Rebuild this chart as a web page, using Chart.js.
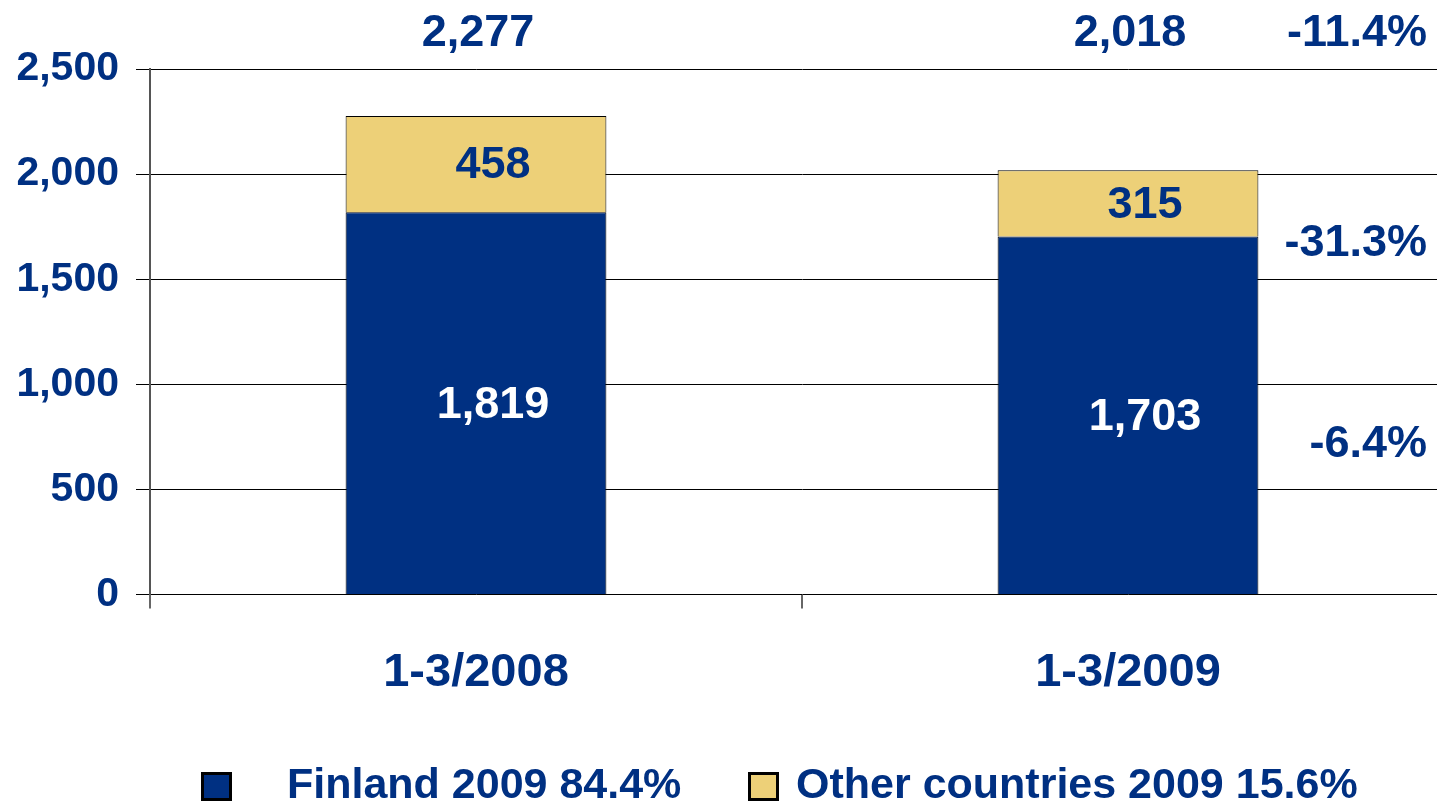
<!DOCTYPE html>
<html>
<head>
<meta charset="utf-8">
<script src="https://cdn.jsdelivr.net/npm/chart.js@4/dist/chart.umd.min.js"></script>
<style>
  html, body { margin: 0; padding: 0; background: #fff; overflow: hidden; }
  #wrap { width: 1437px; height: 805px; overflow: hidden; }
  canvas { display: block; }
</style>
</head>
<body>
<div id="wrap"><canvas id="c" width="1454" height="805"></canvas></div>
<script>
const categories = ['1-3/2008', '1-3/2009'];
const finland = [1819, 1703];
const otherCountries = [458, 315];
const seriesLabels = ['Finland 2009 84.4%', 'Other countries 2009 15.6%'];
const yTicks = [0, 500, 1000, 1500, 2000, 2500];
const changeTotal = '-11.4%';
const changeOther = '-31.3%';
const changeFinland = '-6.4%';

const NAVY = '#003082';
const YELLOW = '#EDD078';
const FONT = '"Liberation Sans", Arial, sans-serif';
const fmt = v => v.toLocaleString('en-US');

const labelsPlugin = {
  id: 'labelsPlugin',
  afterDatasetsDraw(chart) {
    const ctx = chart.ctx;
    const ys = chart.scales.y;
    ctx.save();
    ctx.textAlign = 'center';
    ctx.textBaseline = 'middle';
    chart.data.datasets.forEach((ds, di) => {
      const meta = chart.getDatasetMeta(di);
      meta.data.forEach((bar, i) => {
        const mid = (bar.y + bar.base) / 2;
        ctx.font = 'bold 45px ' + FONT;
        ctx.fillStyle = di === 0 ? '#ffffff' : NAVY;
        ctx.fillText(fmt(ds.data[i]), bar.x + 17, mid + 2);
      });
    });
    const meta0 = chart.getDatasetMeta(0);
    meta0.data.forEach((bar, i) => {
      const total = finland[i] + otherCountries[i];
      ctx.font = 'bold 45px ' + FONT;
      ctx.fillStyle = NAVY;
      ctx.fillText(fmt(total), bar.x + 2, 34);
    });
    ctx.textAlign = 'right';
    ctx.font = 'bold 45px ' + FONT;
    ctx.fillStyle = NAVY;
    ctx.fillText(changeTotal, 1427, 34);
    ctx.fillText(changeOther, 1427, ys.getPixelForValue(1670));
    ctx.fillText(changeFinland, 1427, ys.getPixelForValue(715));
    ctx.restore();
  }
};

const legendPlugin = {
  id: 'customLegend',
  afterDraw(chart) {
    const ctx = chart.ctx;
    ctx.save();
    const items = [
      { box: 201, text: 287, color: NAVY, label: seriesLabels[0] },
      { box: 748, text: 796, color: YELLOW, label: seriesLabels[1] }
    ];
    items.forEach(it => {
      ctx.fillStyle = '#000';
      ctx.fillRect(it.box, 772, 31, 29);
      ctx.fillStyle = it.color;
      ctx.fillRect(it.box + 3, 775, 25, 23);
      ctx.font = 'bold 43px ' + FONT;
      ctx.fillStyle = NAVY;
      ctx.textAlign = 'left';
      ctx.textBaseline = 'middle';
      ctx.fillText(it.label, it.text, 786);
    });
    ctx.restore();
  }
};

new Chart(document.getElementById('c'), {
  type: 'bar',
  data: {
    labels: categories,
    datasets: [
      { label: seriesLabels[0], data: finland, backgroundColor: NAVY, borderColor: '#000', borderWidth: 1 },
      { label: seriesLabels[1], data: otherCountries, backgroundColor: YELLOW, borderColor: '#000', borderWidth: 1 }
    ]
  },
  options: {
    responsive: false,
    devicePixelRatio: 1,
    animation: false,
    layout: { padding: { top: 69, right: 0, bottom: 68, left: 0 } },
    datasets: { bar: { barPercentage: 0.4, categoryPercentage: 1.0 } },
    plugins: {
      legend: { display: false },
      tooltip: { enabled: false }
    },
    scales: {
      x: {
        stacked: true,
        offset: true,
        grid: { offset: true, drawOnChartArea: false, drawTicks: true, tickLength: 14, color: '#666', lineWidth: 2 },
        border: { display: false },
        ticks: { color: NAVY, font: { family: FONT, size: 47, weight: 'bold' }, padding: 36 }
      },
      y: {
        stacked: true,
        min: 0,
        max: 2500,
        afterBuildTicks(scale) { scale.ticks = yTicks.map(v => ({ value: v })); },
        afterFit(scale) { scale.width = 150; },
        grid: { color: '#000', lineWidth: 1, tickLength: 14 },
        border: { display: true, color: '#555', width: 2 },
        ticks: {
          color: NAVY,
          font: { family: FONT, size: 41, weight: 'bold' },
          padding: 17,
          callback: v => fmt(v)
        }
      }
    }
  },
  plugins: [labelsPlugin, legendPlugin]
});
</script>
</body>
</html>
